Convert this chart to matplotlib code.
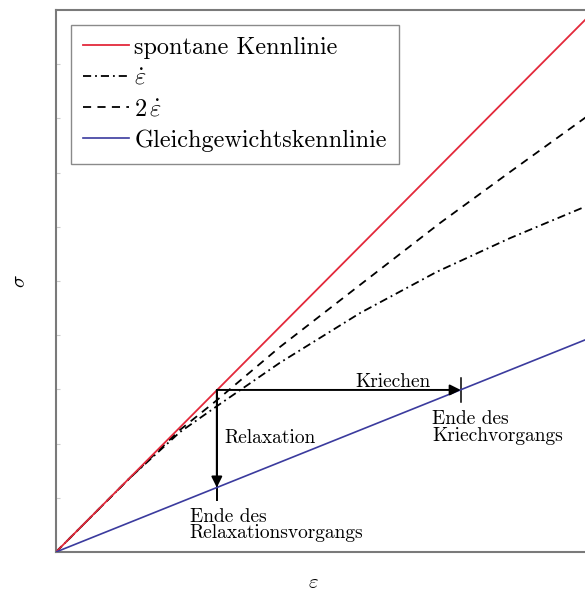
import matplotlib
matplotlib.use("Agg")
import matplotlib.pyplot as plt

plt.rcParams['font.family'] = 'serif'
plt.rcParams['font.serif'] = ['cmr10', 'DejaVu Serif']
plt.rcParams['mathtext.fontset'] = 'cm'
plt.rcParams['axes.unicode_minus'] = False
plt.rcParams['axes.formatter.use_mathtext'] = True

# ---- data ----
spontan_x = [0.0, 10.3]
spontan_y = [0.0, 10.11]

gleich_x = [0.0, 10.3]
gleich_y = [0.0, 4.03]

rate1_x = [0.0, 1.40, 2.34, 3.04, 4.23, 5.75, 7.20, 8.58, 10.0, 10.3]
rate1_y = [0.0, 1.37, 2.21, 2.69, 3.49, 4.41, 5.17, 5.79, 6.37, 6.49]

rate2_x = [0.0, 1.40, 2.34, 3.04, 4.23, 5.75, 7.26, 8.58, 10.0, 10.3]
rate2_y = [0.0, 1.37, 2.25, 2.80, 3.78, 4.93, 6.07, 7.01, 8.01, 8.22]

relax_start = (3.04, 2.99)
relax_end_y = 1.19
creep_end_x = 7.65

legend_labels = ["spontane Kennlinie", r"$\dot{\varepsilon}$",
                 r"$2\,\dot{\varepsilon}$", "Gleichgewichtskennlinie"]

RED = '#e3293b'
BLUE = '#3b3b9e'

fig = plt.figure(figsize=(5.85, 5.98), dpi=100)
ax = fig.add_axes([56/585, 46/598, (600-56)/585, 542/598])
ax.set_xlim(0, (600-56)/52.9)
ax.set_ylim(0, 10)

ax.plot(spontan_x, spontan_y, color=RED, lw=1.3, label=legend_labels[0], zorder=3)
ax.plot(rate1_x, rate1_y, color='black', lw=1.3, dashes=(4.5, 2.2, 1, 2.2),
        label=legend_labels[1], zorder=2)
ax.plot(rate2_x, rate2_y, color='black', lw=1.3, dashes=(4.5, 3.5),
        label=legend_labels[2], zorder=2)
ax.plot(gleich_x, gleich_y, color=BLUE, lw=1.2, label=legend_labels[3], zorder=3)

x0, y0 = relax_start
# creep arrow
ax.annotate('', xy=(creep_end_x, y0), xytext=(x0, y0),
            arrowprops=dict(arrowstyle='-|>', color='black', lw=1.4,
                            mutation_scale=16, shrinkA=0, shrinkB=0), zorder=4)
ax.plot([creep_end_x, creep_end_x], [y0 - 0.22, y0 + 0.22], color='black', lw=1.1)
# relaxation arrow
ax.plot([x0, x0], [y0, relax_end_y - 0.23], color='black', lw=1.4)
ax.annotate('', xy=(x0, relax_end_y), xytext=(x0, y0),
            arrowprops=dict(arrowstyle='-|>', color='black', lw=1.4,
                            mutation_scale=16, shrinkA=0, shrinkB=0), zorder=4)

fs = 14
ax.text(5.65, 3.14, "Kriechen", fontsize=fs, va='center', ha='left')
ax.text(7.11, 2.30, "Ende des\nKriechvorgangs", fontsize=fs, va='center', ha='left',
        linespacing=0.9)
ax.text(3.18, 2.10, "Relaxation", fontsize=fs, va='center', ha='left')
ax.text(2.53, 0.50, "Ende des\nRelaxationsvorgangs", fontsize=fs, va='center', ha='left',
        linespacing=0.9)

for s in ['left', 'bottom', 'top', 'right']:
    ax.spines[s].set_color('#7a7a7a')
    ax.spines[s].set_linewidth(1.5)

ax.set_yticks(range(1, 10))
ax.set_xticks([])
ax.tick_params(axis='y', direction='in', length=3, color='#cccccc', labelleft=False)

ax.set_ylabel(r"$\sigma$", fontsize=15, rotation=90)
ax.yaxis.set_label_coords(-27/544, 0.5)
ax.set_xlabel(r"$\varepsilon$", fontsize=15)
ax.xaxis.set_label_coords((313-56)/544, -22/542)

leg = ax.legend(loc='upper left', fontsize=17.5, frameon=True, fancybox=False,
                edgecolor='#8a8a8a', framealpha=1, handlelength=1.9,
                handletextpad=0.22, labelspacing=0.36, borderaxespad=0.6,
                borderpad=0.5)
leg.get_frame().set_linewidth(1.0)

fig.savefig('out.png', dpi=100)
